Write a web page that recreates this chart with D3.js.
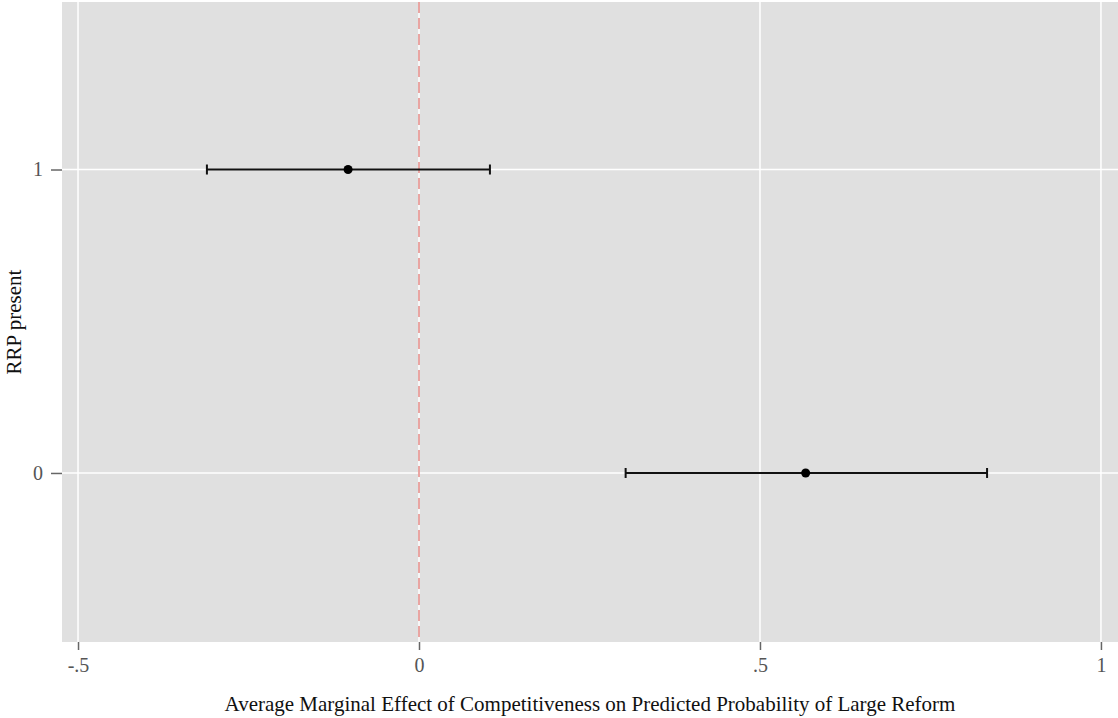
<!DOCTYPE html>
<html>
<head>
<meta charset="utf-8">
<script src="https://cdn.jsdelivr.net/npm/d3@7"></script>
<style>
  body { margin: 0; background: #fff; }
  svg text { font-family: "Liberation Serif", "Times New Roman", serif; }
</style>
</head>
<body>
<svg id="chart"></svg>
<script>
const WIDTH = 1118;
const HEIGHT = 718;
const MARGIN = { top: 2, right: 0, bottom: 76, left: 62 };

// RRP present groups and their average marginal effects with 95% CIs
const groups = [1, 0];
const estimates = [-0.104, 0.567];
const lower = [-0.311, 0.303];
const upper = [0.104, 0.833];

const xTicks = [-0.5, 0, 0.5, 1];
const xTickLabels = ["-.5", "0", ".5", "1"];
const yTicks = [0, 1];

const rows = groups.map((g, i) => ({
  group: g, est: estimates[i], lo: lower[i], hi: upper[i]
}));

const svg = d3.select("#chart")
  .attr("width", WIDTH)
  .attr("height", HEIGHT);

const xScale = d3.scaleLinear()
  .domain([-0.5235, 1.025])
  .range([MARGIN.left, WIDTH - MARGIN.right]);

const yScale = d3.scaleLinear()
  .domain([-0.557, 1.552])
  .range([HEIGHT - MARGIN.bottom, MARGIN.top]);

// plot background
svg.append("rect")
  .attr("x", MARGIN.left)
  .attr("y", MARGIN.top)
  .attr("width", WIDTH - MARGIN.left - MARGIN.right)
  .attr("height", HEIGHT - MARGIN.top - MARGIN.bottom)
  .attr("fill", "#e0e0e0");

// grid lines
svg.append("g")
  .selectAll("line")
  .data(xTicks)
  .join("line")
  .attr("x1", d => xScale(d))
  .attr("x2", d => xScale(d))
  .attr("y1", MARGIN.top)
  .attr("y2", HEIGHT - MARGIN.bottom)
  .attr("stroke", "#fff")
  .attr("stroke-width", 1.5);

svg.append("g")
  .selectAll("line")
  .data(yTicks)
  .join("line")
  .attr("x1", MARGIN.left)
  .attr("x2", WIDTH - MARGIN.right)
  .attr("y1", d => yScale(d))
  .attr("y2", d => yScale(d))
  .attr("stroke", "#fff")
  .attr("stroke-width", 1.5);

// reference line at zero
svg.append("line")
  .attr("x1", xScale(0))
  .attr("x2", xScale(0))
  .attr("y1", MARGIN.top)
  .attr("y2", HEIGHT - MARGIN.bottom)
  .attr("stroke", "#e58a86")
  .attr("stroke-width", 1.5)
  .attr("stroke-dasharray", "11,5");

// axes
const xAxis = d3.axisBottom(xScale)
  .tickValues(xTicks)
  .tickFormat((d, i) => xTickLabels[i])
  .tickSizeOuter(0)
  .tickSize(8)
  .tickPadding(8);

const gx = svg.append("g")
  .attr("transform", `translate(0,${HEIGHT - MARGIN.bottom})`)
  .call(xAxis);

const yAxis = d3.axisLeft(yScale)
  .tickValues(yTicks)
  .tickFormat(d3.format("d"))
  .tickSizeOuter(0)
  .tickSize(11)
  .tickPadding(8);

const gy = svg.append("g")
  .attr("transform", `translate(${MARGIN.left},0)`)
  .call(yAxis);

[gx, gy].forEach(g => {
  g.attr("font-size", null).attr("font-family", null);
  g.select(".domain").remove();
  g.selectAll(".tick line").attr("stroke", "#666").attr("stroke-width", 1.5);
  g.selectAll(".tick text")
    .attr("fill", "#555")
    .style("font-size", "20px");
});

// axis titles
svg.append("text")
  .attr("x", 590)
  .attr("y", 711)
  .attr("text-anchor", "middle")
  .attr("fill", "#111")
  .style("font-size", "21px")
  .text("Average Marginal Effect of Competitiveness on Predicted Probability of Large Reform");

svg.append("text")
  .attr("transform", `translate(21,${(MARGIN.top + HEIGHT - MARGIN.bottom) / 2}) rotate(-90)`)
  .attr("text-anchor", "middle")
  .attr("fill", "#111")
  .style("font-size", "21px")
  .text("RRP present");

// error bars
const bars = svg.append("g")
  .selectAll("g")
  .data(rows)
  .join("g");

bars.append("line")
  .attr("x1", d => xScale(d.lo))
  .attr("x2", d => xScale(d.hi))
  .attr("y1", d => yScale(d.group))
  .attr("y2", d => yScale(d.group))
  .attr("stroke", "#111")
  .attr("stroke-width", 2);

["lo", "hi"].forEach(k => {
  bars.append("line")
    .attr("x1", d => xScale(d[k]))
    .attr("x2", d => xScale(d[k]))
    .attr("y1", d => yScale(d.group) - 5)
    .attr("y2", d => yScale(d.group) + 5)
    .attr("stroke", "#111")
    .attr("stroke-width", 2);
});

bars.append("circle")
  .attr("cx", d => xScale(d.est))
  .attr("cy", d => yScale(d.group))
  .attr("r", 4.5)
  .attr("fill", "#000");
</script>
</body>
</html>
